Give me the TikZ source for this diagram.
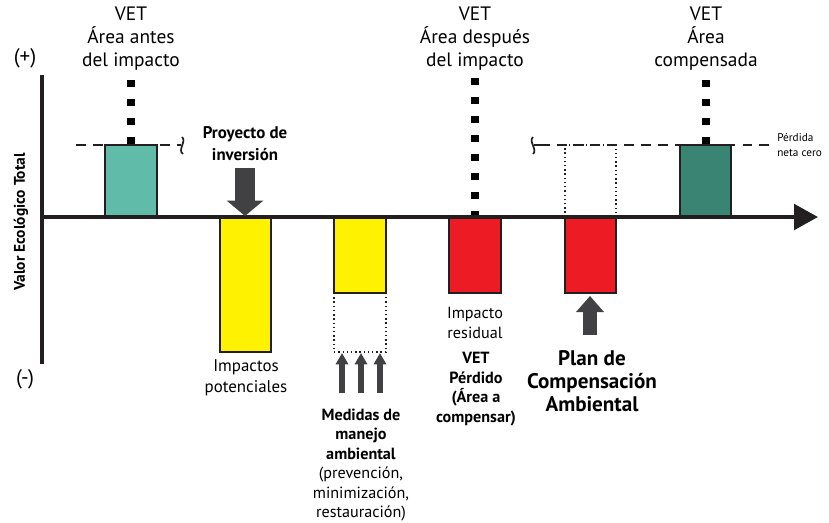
\documentclass[tikz,border=0pt]{standalone}
\usepackage{fontspec}
\setmainfont{PT Sans}
\usetikzlibrary{arrows.meta}

\definecolor{vetlight}{HTML}{60BCA9}
\definecolor{vetdark}{HTML}{3A8474}
\definecolor{impyellow}{HTML}{FFF200}
\definecolor{impred}{HTML}{ED1C24}
\definecolor{inkgray}{HTML}{414042}
\definecolor{ink}{HTML}{231F20}

\tikzset{
    bar/.style={draw=ink, line width=1.4pt},
    ghost/.style={draw=ink, dotted, line width=1pt},
    level/.style={draw=ink, line width=1.3pt, dash pattern=on 7pt off 5pt},
    squiggle/.style={draw=ink, line width=1.2pt},
    vetline/.style={draw=black, line width=5.7pt, dash pattern=on 5.3pt off 8.2pt},
    axis/.style={draw=ink, line width=2.9pt},
    toplabel/.style={align=center, inner sep=0pt, text=black,
        font=\fontsize{13.8}{16.4}\selectfont},
    bigdown/.style={draw=inkgray, line width=14pt,
        -{Triangle[length=11pt,width=25.6pt]}},
    bigup/.style={draw=inkgray, line width=10pt,
        -{Triangle[length=11.4pt,width=19.2pt]}},
    smallup/.style={draw=inkgray, line width=3.6pt,
        -{Triangle[length=8pt,width=8.5pt]}}
}

\begin{document}
\begin{tikzpicture}[x=0.025cm,y=-0.025cm]
\useasboundingbox (0,0) rectangle (829,522);

% zero net loss level
\draw[level] (76,145) -- (178,145);
\draw[squiggle] (178,145) -- (181,145);
\draw[squiggle] (182,137) .. controls (187,141) and (177,150) .. (183,154);
\draw[squiggle] (533,137) .. controls (528,141) and (538,150) .. (533,154);
\draw[squiggle] (534,145) -- (540,145);
\draw[level] (540,145) -- (770,145);

% bars
\filldraw[bar, fill=vetlight] (105,145) rectangle (157,217);
\filldraw[bar, fill=impyellow] (220,217) rectangle (271,352);
\filldraw[bar, fill=impyellow] (334,217) rectangle (386,293);
\draw[ghost] (334,293) -- (334,352) -- (386,352) -- (386,293);
\filldraw[bar, fill=impred] (449,217) rectangle (501,293);
\filldraw[bar, fill=impred] (565,217) rectangle (616,293);
\draw[ghost] (565,217) -- (565,145) -- (616,145) -- (616,217);
\filldraw[bar, fill=vetdark] (680,145) rectangle (731,217);

% VET markers
\draw[vetline] (131,80) -- (131,145);
\draw[vetline] (475,78) -- (475,217);
\draw[vetline] (706,80) -- (706,145);

% axes
\draw[axis] (42,75) -- (42,364);
\draw[axis, -{Triangle[length=17pt,width=18pt]}] (40.6,217) -- (818,217);

\node (plus) at (25,58) {\fontsize{15}{17}\selectfont (+)};
\node (minus) at (25,379) {\fontsize{15}{17}\selectfont (-)};
\node[rotate=90, font=\bfseries\fontsize{11}{13}\selectfont] (vet) at (21,222)
    {Valor Ecológico Total};

\node[toplabel] (antes) at (131,39) {VET\\Área antes\\del impacto};
\node[toplabel] (despues) at (475,39) {VET\\Área después\\del impacto};
\node[toplabel] (compensada) at (706,39) {VET\\Área\\compensada};

\node[anchor=west, align=left, inner sep=0pt,
    font=\fontsize{8}{10.5}\selectfont] (neta) at (777,145) {Pérdida\\neta cero};

\node[align=center, inner sep=0pt,
    font=\bfseries\fontsize{12}{15.5}\selectfont] (proyecto) at (245,144)
    {Proyecto de\\inversión};
\coordinate (proytip) at (245,216);
\draw[bigdown] (245,168) -- (proytip);

\node[align=center, inner sep=0pt,
    font=\fontsize{12}{15}\selectfont] (potenciales) at (246,378)
    {Impactos\\potenciales};

% mitigation arrows
\foreach \x [count=\i] in {342,361,380}
    \draw[smallup] (\x,393) -- (\x,353);
\node[align=center, inner sep=0pt,
    font=\fontsize{11.5}{13.9}\selectfont] (medidas) at (361,465)
    {\textbf{Medidas de}\\\textbf{manejo}\\\textbf{ambiental}\\(prevención,\\minimización,\\restauración)};

\node[align=center, inner sep=0pt,
    font=\fontsize{11.5}{14}\selectfont] (residual) at (475,323)
    {Impacto\\residual};
\node[align=center, inner sep=0pt,
    font=\bfseries\fontsize{11.5}{14}\selectfont] (perdido) at (476,389)
    {VET\\Pérdido\\(Área a\\compensar)};

\coordinate (plantip) at (590,296);
\draw[bigup] (590,335) -- (plantip);
\node[align=center, inner sep=0pt,
    font=\bfseries\fontsize{15}{16.6}\selectfont] (plan) at (592,381)
    {Plan de\\Compensación\\Ambiental};

\end{tikzpicture}
\end{document}
